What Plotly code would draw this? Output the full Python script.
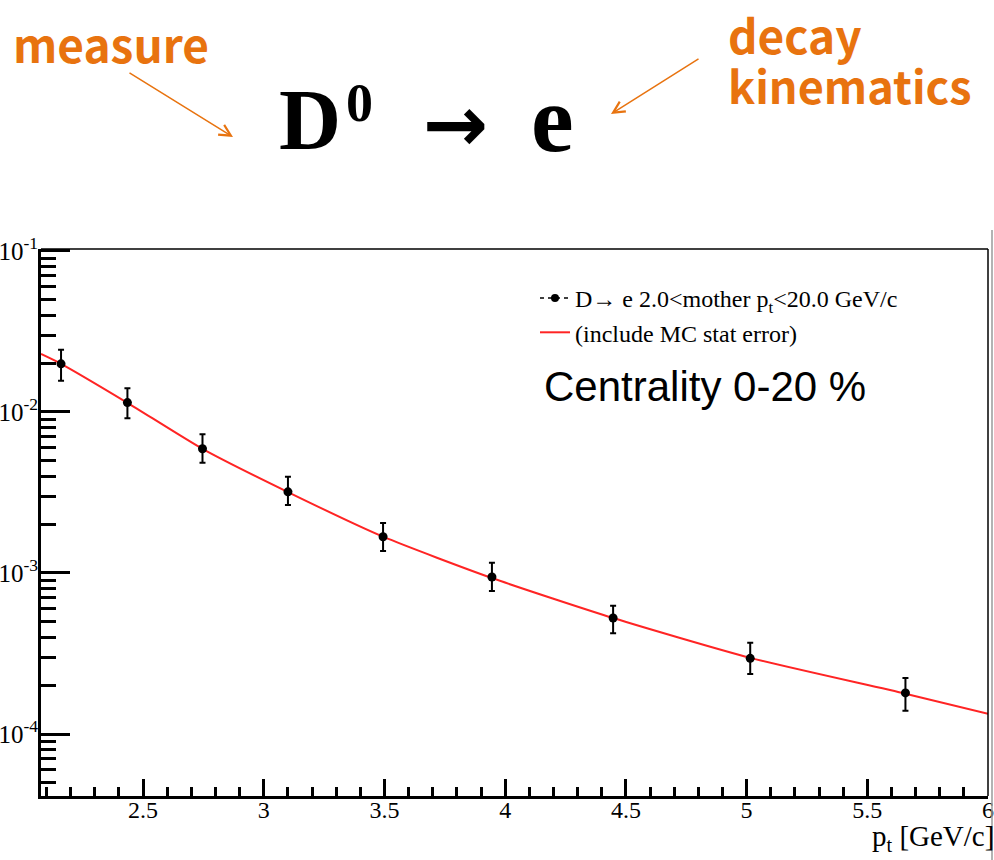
import plotly.graph_objects as go

# D -> e spectrum, centrality 0-20 %
pt = [2.160, 2.435, 2.746, 3.100, 3.494, 3.945, 4.447, 5.015, 5.658]
yld = [0.0199, 0.01143, 0.00591, 0.00319, 0.00168, 0.000944, 0.000525, 0.000295, 0.000180]
yld_hi = [0.0243, 0.01403, 0.00727, 0.00396, 0.002046, 0.001159, 0.000627, 0.000369, 0.000223]
yld_lo = [0.0156, 0.00914, 0.00484, 0.00264, 0.001371, 0.000773, 0.000422, 0.000236, 0.0001395]

# fitted curve (with MC statistical error included)
fit_pt = [2.077, 2.160, 2.435, 2.746, 3.100, 3.494, 3.945, 4.447, 5.015, 5.658, 6.0]
fit_y = [0.0229, 0.0199, 0.0114, 0.0059, 0.00318, 0.00168, 0.00093, 0.000525, 0.000297, 0.000178, 0.0001336]

x_ticks = [2.5, 3.0, 3.5, 4.0, 4.5, 5.0, 5.5, 6.0]
x_labels = ["2.5", "3", "3.5", "4", "4.5", "5", "5.5", "6"]
x_minor = [2.1, 2.2, 2.3, 2.4, 2.6, 2.7, 2.8, 2.9, 3.1, 3.2, 3.3, 3.4, 3.6, 3.7, 3.8, 3.9,
           4.1, 4.2, 4.3, 4.4, 4.6, 4.7, 4.8, 4.9, 5.1, 5.2, 5.3, 5.4, 5.6, 5.7, 5.8, 5.9]
y_ticks = [1e-4, 1e-3, 1e-2, 1e-1]
y_labels = ["10<sup>-4</sup>", "10<sup>-3</sup>", "10<sup>-2</sup>", "10<sup>-1</sup>"]
y_minor = [k * 10.0 ** e for e in (-5, -4, -3, -2) for k in range(2, 10)]

legend_data = "D\u2192 e 2.0&lt;mother p<sub>t</sub>&lt;20.0 GeV/c"
legend_fit = "(include MC stat error)"

W, H = 994, 860
L, R, T, B = 41, 988, 249, 796


def px(xp):
    return (xp - L) / (R - L)


def py(yp):
    return (B - yp) / (B - T)


def label(text, x, y, size, family, color="black", xanchor="center"):
    return dict(text=text, x=px(x), y=py(y), xref="paper", yref="paper",
                xanchor=xanchor, yanchor="middle", showarrow=False,
                font=dict(family=family, size=size, color=color))


SERIF = "Liberation Serif"
KR = "Noto Sans CJK KR"
ORANGE = "#E8730F"

fig = go.Figure()

fig.add_trace(go.Scatter(
    x=fit_pt, y=fit_y, mode="lines", name=legend_fit, legendrank=2,
    line=dict(color="#ff2424", width=2, shape="spline", smoothing=0.6),
))

fig.add_trace(go.Scatter(
    x=pt, y=yld, mode="markers", showlegend=False,
    marker=dict(color="black", size=9),
    error_y=dict(
        type="data", symmetric=False,
        array=[h - v for h, v in zip(yld_hi, yld)],
        arrayminus=[v - l for v, l in zip(yld, yld_lo)],
        color="black", thickness=2, width=3,
    ),
))

# legend entry for the points: dashed line with marker
fig.add_trace(go.Scatter(
    x=[None], y=[None], mode="lines+markers", name=legend_data, legendrank=1,
    line=dict(color="black", width=1.5, dash="4px,4px"),
    marker=dict(color="black", size=8),
))

fig.update_xaxes(
    range=[2.077, 6.0], showgrid=False, zeroline=False, automargin=False,
    showline=True, linecolor="black", linewidth=3,
    ticks="inside", ticklen=17, tickwidth=2.5, tickcolor="black",
    tickmode="array", tickvals=x_ticks, ticktext=x_labels, ticklabelstandoff=-10,
    tickfont=dict(family=SERIF, size=24, color="black"),
    minor=dict(tickmode="array", tickvals=x_minor, ticks="inside",
               ticklen=9, tickwidth=2.5, tickcolor="black"),
)
fig.update_yaxes(
    type="log", range=[-4.385, -0.988], showgrid=False, zeroline=False, automargin=False,
    showline=True, linecolor="black", linewidth=3,
    ticks="inside", ticklen=29, tickwidth=2.5, tickcolor="black",
    tickmode="array", tickvals=y_ticks, ticktext=y_labels, ticklabelstandoff=-5,
    tickfont=dict(family=SERIF, size=25, color="black"),
    minor=dict(tickmode="array", tickvals=y_minor, ticks="inside",
               ticklen=15, tickwidth=2.5, tickcolor="black"),
)

shapes = [
    # top and right frame
    dict(type="line", xref="paper", yref="paper", x0=0, x1=1, y0=1, y1=1,
         line=dict(color="black", width=1.5)),
    dict(type="line", xref="paper", yref="paper", x0=1, x1=1, y0=0, y1=1,
         line=dict(color="black", width=1.5)),
    # outer canvas edge
    dict(type="line", xref="paper", yref="paper", x0=px(992), x1=px(992),
         y0=py(230), y1=py(860), line=dict(color="#9a9a9a", width=1.5)),
]

annotations = [
    label("Centrality 0-20 %", 705, 386, 42, "Liberation Sans"),
    label("p<sub>t</sub> [GeV/c]", 996, 838, 29, SERIF, xanchor="right"),
    # heading formula
    label("<b>D</b>", 310, 120, 86, SERIF),
    label("<b>0</b>", 359, 103, 54, SERIF),
    label("<b>\u2192</b>", 455, 124, 78, "DejaVu Sans"),
    label("<b>e</b>", 552, 119, 96, SERIF),
    # notes
    label("<b>measure</b>", 111, 43, 46, KR, ORANGE),
    label("<b>decay</b>", 726, 34, 46, KR, ORANGE, xanchor="left"),
    label("<b>kinematics</b>", 726, 84, 45, KR, ORANGE, xanchor="left"),
    dict(text="", x=px(233), y=py(137), xref="paper", yref="paper",
         showarrow=True, ax=-105, ay=-65, axref="pixel", ayref="pixel",
         arrowhead=5, arrowsize=1.5, arrowwidth=1.5, arrowcolor=ORANGE, standoff=0),
    dict(text="", x=px(611), y=py(114), xref="paper", yref="paper",
         showarrow=True, ax=89, ay=-56, axref="pixel", ayref="pixel",
         arrowhead=5, arrowsize=1.5, arrowwidth=1.5, arrowcolor=ORANGE, standoff=0),
]

fig.update_layout(
    width=W, height=H,
    margin=dict(l=L, r=W - R, t=T, b=H - B, pad=0, autoexpand=False),
    paper_bgcolor="white", plot_bgcolor="white",
    showlegend=True,
    legend=dict(x=px(535), y=py(276), xanchor="left", yanchor="top",
                bgcolor="rgba(0,0,0,0)", borderwidth=0, tracegroupgap=0,
                font=dict(family=SERIF, size=24, color="black")),
    shapes=shapes, annotations=annotations,
)

fig.write_html("out.html")
